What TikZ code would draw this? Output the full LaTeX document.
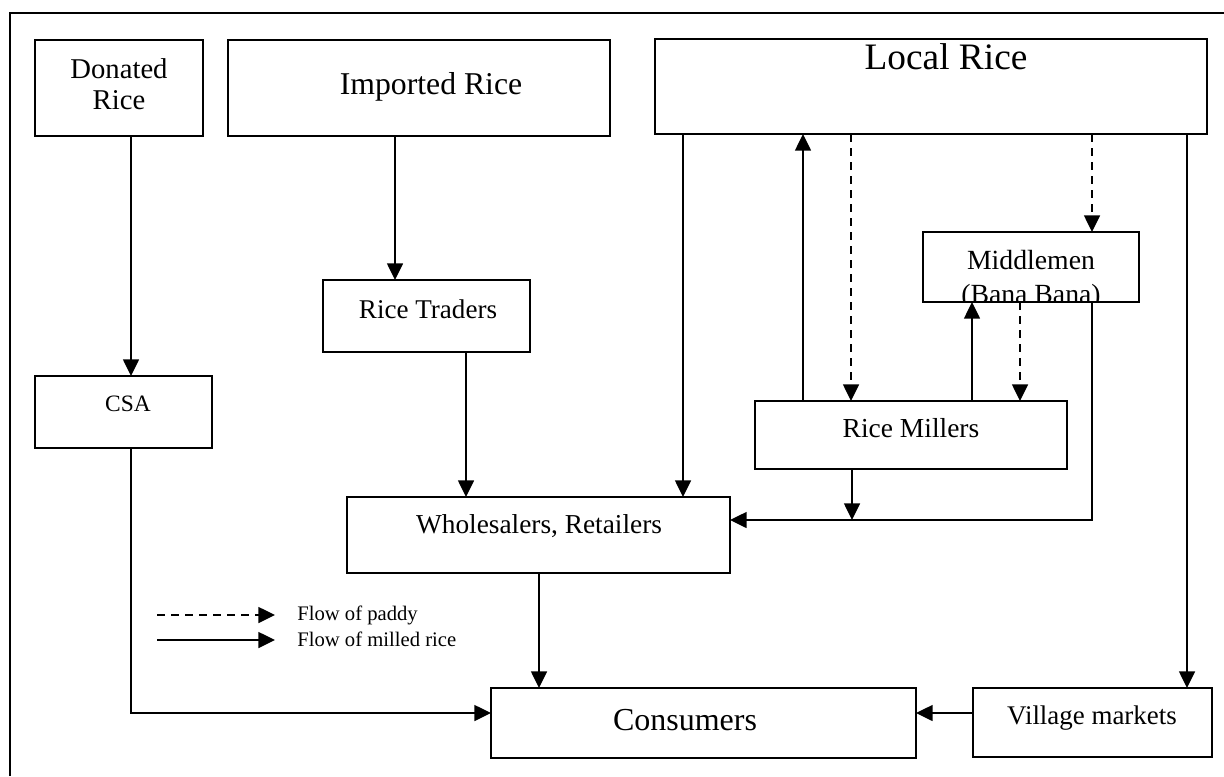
\documentclass[tikz,border=0pt]{standalone}
\usepackage{fontspec}
\setmainfont{Liberation Serif}
\usetikzlibrary{arrows.meta}
\begin{document}
\begin{tikzpicture}[x=0.75pt,y=-0.75pt,
  box/.style={draw, line width=1.5pt, inner sep=0pt, outer sep=0pt},
  sz/.style 2 args={minimum width=#1*0.75pt, minimum height=#2*0.75pt},
  lbl/.style={inner sep=0pt, anchor=base, font=\fontsize{#1}{#1}\selectfont},
  arr/.style={line width=1.1pt, -{Triangle[length=12.5pt,width=12pt]}},
  flow/.style={arr, dash pattern=on 6pt off 4.5pt},
]
\useasboundingbox (0,0) rectangle (1224,776);

% outer frame (open to the right and bottom)
\draw[line width=1.3pt] (10,776) -- (10,13) -- (1224,13);

% boxes
\node[box, sz={168}{96}]  (dr)   at (119,88)    {};
\node[box, sz={382}{96}]  (ir)   at (419,88)    {};
\node[box, sz={552}{95}]  (lr)   at (931,86.5)  {};
\node[box, sz={207}{72}]  (rt)   at (426.5,316) {};
\node[box, sz={177}{72}]  (csa)  at (123.5,412) {};
\node[box, sz={216}{70}]  (mm)   at (1031,267)  {};
\node[box, sz={312}{68}]  (rm)   at (911,435)   {};
\node[box, sz={383}{76}]  (ws)   at (538.5,535) {};
\node[box, sz={425}{70}]  (cons) at (703.5,723) {};
\node[box, sz={239}{69}]  (vm)   at (1092.5,722.5) {};

% labels
\node[lbl=21.5] (drt1) at (119,78)  {Donated};
\node[lbl=21.5] (drt2) at (119,109) {Rice};
\node[lbl=23.8] (irt)  at (431,94)  {Imported Rice};
\node[lbl=28]   (lrt)  at (946,69)  {Local Rice};
\node[lbl=20.3] (rtt)  at (428,318) {Rice Traders};
\node[lbl=17.6] (csat) at (128,411) {CSA};
\node[lbl=20.8] (mmt)  at (1031,269) {Middlemen};
\begin{scope}
  \clip (mm.north west) rectangle (mm.south east);
  \node[lbl=20.8] (mmt2) at (1031,303) {(Bana Bana)};
\end{scope}
\node[box, sz={216}{70}] at (mm) {};
\node[lbl=20.6] (rmt)  at (911,437) {Rice Millers};
\node[lbl=20.5] (wst)  at (539,533) {Wholesalers, Retailers};
\node[lbl=24]   (const) at (685,730) {Consumers};
\node[lbl=20.2] (vmt)  at (1092,724) {Village markets};

% flows of milled rice
\draw[arr] (dr.south -| 131,0) -- (csa.north -| 131,0);
\draw[arr] (csa.south -| 131,0) |- (cons.west |- 0,713);
\draw[arr] (ir.south -| 395,0) -- (rt.north -| 395,0);
\draw[arr] (rt.south -| 466,0) -- (ws.north -| 466,0);
\draw[arr] (lr.south -| 683,0) -- (ws.north -| 683,0);
\draw[arr] (rm.north -| 803,0) -- (lr.south -| 803,0);
\draw[arr] (lr.south -| 1187,0) -- (vm.north -| 1187,0);
\draw[arr] (rm.north -| 972,0) -- (mm.south -| 972,0);
\coordinate (j) at (852,520);
\draw[arr] (mm.south -| 1092,0) |- (ws.east |- j);
\draw[arr] (rm.south -| 852,0) -- (j);
\draw[arr] (ws.south -| 539,0) -- (cons.north -| 539,0);
\draw[arr] (vm.west |- 0,713) -- (cons.east |- 0,713);

% flows of paddy
\draw[flow] (lr.south -| 851,0) -- (rm.north -| 851,0);
\draw[flow] (lr.south -| 1092,0) -- (mm.north -| 1092,0);
\draw[flow] (mm.south -| 1020,0) -- (rm.north -| 1020,0);

% legend
\coordinate (l1a) at (157,615);
\coordinate (l1b) at (275,615);
\coordinate (l2a) at (157,640);
\coordinate (l2b) at (275,640);
\draw[flow] (l1a) -- (l1b);
\draw[arr]  (l2a) -- (l2b);
\node[lbl=15.5, anchor=base west] (lg1) at (297,620) {Flow of paddy};
\node[lbl=15.5, anchor=base west] (lg2) at (297,646) {Flow of milled rice};
\end{tikzpicture}
\end{document}
